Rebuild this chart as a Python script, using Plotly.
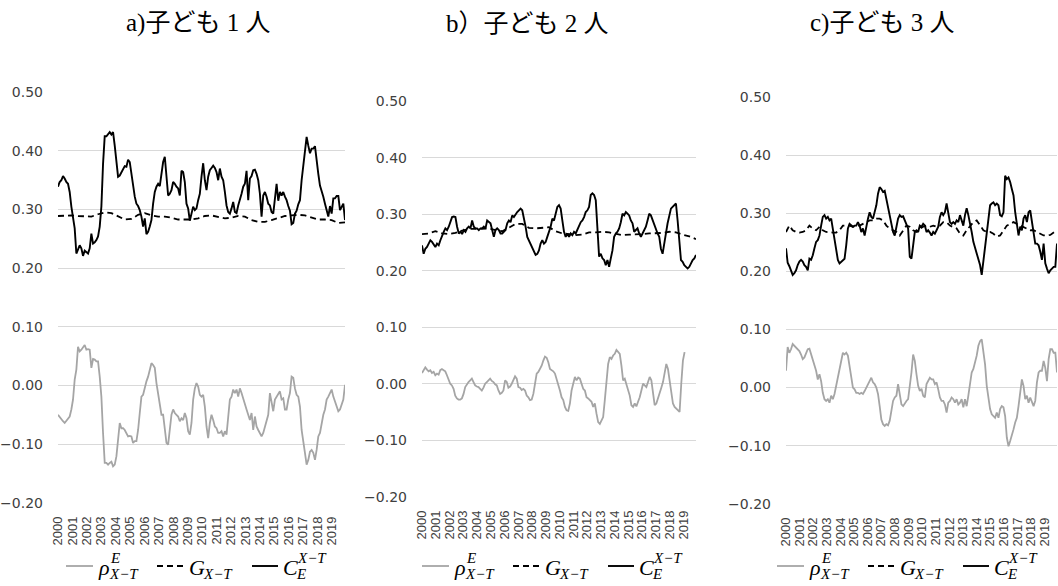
import pandas as pd
import plotly.graph_objects as go

# ---------------- data ----------------
years = [str(y) for y in range(2000, 2020)]
titles = ["a)子ども 1 人", "b）子ども 2 人", "c)子ども 3 人"]
series_names = ["rho_E_X-T", "G_X-T", "C_E^X-T"]

# Panel a (1 child)
rho_a = [-0.050,-0.054,-0.059,-0.061,-0.064,-0.060,-0.056,-0.053,-0.041,-0.024,
         0.010,0.027,0.066,0.058,0.061,0.066,0.069,0.061,0.062,0.061,
         0.030,0.045,0.044,0.041,0.041,0.015,-0.019,-0.081,-0.132,-0.132,
         -0.135,-0.132,-0.130,-0.138,-0.135,-0.121,-0.090,-0.064,-0.073,-0.073,
         -0.076,-0.081,-0.087,-0.086,-0.087,-0.098,-0.095,-0.095,-0.076,-0.047,
         -0.019,-0.016,-0.002,0.007,0.015,0.027,0.038,0.035,0.030,0.004,
         -0.013,-0.030,-0.050,-0.050,-0.078,-0.098,-0.101,-0.076,-0.050,-0.041,
         -0.047,-0.050,-0.053,-0.061,-0.056,-0.059,-0.047,-0.056,-0.078,-0.084,
         -0.064,-0.024,-0.005,0.004,-0.002,-0.016,-0.019,-0.016,-0.036,-0.070,
         -0.090,-0.064,-0.050,-0.059,-0.070,-0.073,-0.081,-0.081,-0.078,-0.087,
         -0.078,-0.084,-0.059,-0.024,-0.019,-0.007,-0.013,-0.007,-0.019,-0.005,
         -0.013,-0.024,-0.030,-0.041,-0.050,-0.059,-0.047,-0.076,-0.053,-0.070,
         -0.076,-0.081,-0.087,-0.081,-0.070,-0.061,-0.050,-0.013,-0.030,-0.044,
         -0.024,-0.019,-0.013,-0.010,-0.024,-0.022,-0.041,-0.041,-0.024,-0.013,
         0.015,0.013,-0.005,-0.016,-0.019,-0.036,-0.076,-0.093,-0.115,-0.135,
         -0.127,-0.113,-0.110,-0.115,-0.127,-0.110,-0.087,-0.081,-0.064,-0.050,
         -0.041,-0.024,-0.019,-0.013,-0.007,-0.019,-0.027,-0.036,-0.044,-0.041,
         -0.033,-0.024,0.001]
g_a = [0.289,0.290,0.290,0.289,0.289,0.288,0.292,0.295,0.294,0.288,
       0.283,0.284,0.291,0.294,0.290,0.288,0.288,0.286,0.283,0.283,
       0.283,0.285,0.289,0.290,0.288,0.285,0.286,0.289,0.288,0.282,
       0.279,0.279,0.282,0.286,0.289,0.290,0.291,0.290,0.287,0.283,
       0.283,0.282,0.277,0.278]
c_a = [0.339,0.347,0.350,0.357,0.353,0.347,0.344,0.330,0.305,0.282,
       0.268,0.225,0.231,0.239,0.234,0.221,0.230,0.228,0.225,0.234,
       0.259,0.242,0.244,0.248,0.254,0.271,0.305,0.378,0.425,0.425,
       0.429,0.432,0.428,0.432,0.409,0.381,0.356,0.358,0.364,0.371,
       0.374,0.373,0.385,0.381,0.358,0.339,0.322,0.310,0.306,0.299,
       0.288,0.271,0.285,0.258,0.262,0.271,0.282,0.310,0.330,0.339,
       0.344,0.340,0.358,0.381,0.390,0.361,0.324,0.327,0.333,0.347,
       0.344,0.339,0.336,0.324,0.366,0.364,0.347,0.310,0.302,0.281,
       0.293,0.305,0.299,0.302,0.316,0.327,0.356,0.379,0.350,0.333,
       0.356,0.367,0.371,0.375,0.371,0.364,0.350,0.370,0.356,0.350,
       0.330,0.307,0.296,0.293,0.302,0.313,0.296,0.294,0.307,0.316,
       0.327,0.339,0.344,0.366,0.316,0.353,0.357,0.367,0.368,0.361,
       0.350,0.327,0.288,0.324,0.330,0.322,0.310,0.307,0.296,0.293,
       0.324,0.344,0.315,0.330,0.324,0.330,0.322,0.316,0.306,0.298,
       0.275,0.277,0.293,0.298,0.309,0.316,0.350,0.375,0.404,0.424,
       0.409,0.396,0.404,0.404,0.408,0.381,0.361,0.341,0.333,0.322,
       0.310,0.299,0.288,0.306,0.293,0.319,0.319,0.323,0.323,0.299,
       0.305,0.310,0.282]

# Panel b (2 children)
rho_b = [0.019,0.024,0.029,0.025,0.022,0.024,0.019,0.021,0.015,0.018,
         0.016,0.024,0.026,0.024,0.022,0.015,0.006,0.000,-0.003,-0.009,
         -0.021,-0.026,-0.028,-0.028,-0.026,-0.018,-0.006,0.000,0.003,0.006,
         0.009,0.003,-0.003,-0.005,-0.006,-0.009,-0.012,-0.007,0.000,0.003,
         0.006,0.009,0.005,0.003,-0.001,-0.003,-0.012,-0.018,-0.016,-0.012,
         0.006,0.003,-0.007,-0.005,0.000,0.007,0.013,0.009,-0.006,-0.007,
         -0.011,-0.009,-0.012,-0.021,-0.024,-0.029,-0.028,-0.018,0.000,0.018,
         0.021,0.026,0.032,0.041,0.048,0.046,0.038,0.026,0.024,0.022,
         0.018,0.009,0.000,-0.012,-0.024,-0.029,-0.041,-0.047,-0.048,-0.035,
         -0.012,0.000,0.012,0.006,0.011,0.009,0.000,-0.009,-0.012,-0.024,
         -0.026,-0.029,-0.032,-0.041,-0.035,-0.053,-0.068,-0.071,-0.064,-0.059,
         -0.029,0.006,0.035,0.047,0.044,0.050,0.053,0.060,0.056,0.053,
         0.032,0.006,0.009,0.000,-0.009,-0.021,-0.038,-0.041,-0.035,-0.040,
         -0.032,-0.024,-0.012,0.000,-0.003,-0.006,0.003,0.012,0.006,-0.012,
         -0.038,-0.035,-0.024,-0.015,-0.007,0.003,0.021,0.035,0.026,0.006,
         -0.018,-0.035,-0.041,-0.044,-0.047,-0.050,0.000,0.041,0.056]
g_b = [0.265,0.266,0.270,0.266,0.265,0.267,0.271,0.274,0.274,0.274,
       0.275,0.272,0.270,0.276,0.283,0.283,0.276,0.275,0.276,0.277,
       0.270,0.266,0.265,0.263,0.264,0.268,0.268,0.269,0.268,0.265,
       0.263,0.264,0.264,0.265,0.266,0.266,0.267,0.269,0.268,0.264,
       0.261,0.256]
c_b = [0.245,0.230,0.239,0.242,0.248,0.254,0.251,0.245,0.242,0.248,
       0.245,0.254,0.263,0.269,0.275,0.272,0.278,0.289,0.295,0.296,
       0.295,0.278,0.266,0.269,0.265,0.272,0.269,0.275,0.278,0.275,
       0.289,0.278,0.275,0.275,0.272,0.275,0.275,0.278,0.275,0.289,
       0.286,0.284,0.272,0.260,0.272,0.275,0.272,0.266,0.266,0.269,
       0.272,0.284,0.289,0.286,0.298,0.295,0.301,0.304,0.307,0.310,
       0.307,0.295,0.278,0.260,0.254,0.248,0.242,0.236,0.228,0.230,
       0.236,0.248,0.254,0.248,0.251,0.260,0.269,0.278,0.292,0.289,
       0.301,0.313,0.316,0.310,0.289,0.269,0.260,0.266,0.260,0.266,
       0.263,0.269,0.266,0.272,0.278,0.286,0.289,0.295,0.304,0.307,
       0.313,0.334,0.337,0.334,0.325,0.278,0.225,0.230,0.222,0.219,
       0.210,0.219,0.207,0.222,0.236,0.260,0.266,0.269,0.275,0.286,
       0.301,0.298,0.304,0.301,0.298,0.289,0.284,0.269,0.272,0.275,
       0.266,0.260,0.266,0.272,0.278,0.289,0.301,0.298,0.289,0.284,
       0.272,0.266,0.260,0.239,0.230,0.245,0.266,0.284,0.298,0.310,
       0.313,0.316,0.319,0.289,0.254,0.219,0.216,0.210,0.207,0.204,
       0.207,0.213,0.219,0.222,0.228]

# Panel c (3 children)
rho_c = [0.029,0.070,
         0.060,0.066,0.075,0.072,0.069,0.066,0.063,0.057,0.049,0.052,
         0.060,0.066,0.067,0.057,0.049,0.040,0.029,0.014,0.023,0.011,
         -0.009,-0.020,-0.023,-0.020,-0.026,-0.014,-0.020,-0.011,0.003,0.020,
         0.037,0.046,0.060,0.057,0.060,0.055,0.037,0.014,0.000,-0.003,
         -0.009,-0.009,-0.011,-0.009,-0.011,-0.006,0.000,0.006,0.014,0.017,
         0.009,0.006,0.000,-0.011,-0.032,-0.055,-0.063,-0.066,-0.063,-0.065,
         -0.057,-0.043,-0.023,-0.017,-0.014,0.006,-0.011,-0.029,-0.032,-0.026,
         -0.023,-0.020,0.000,0.026,0.057,0.046,0.023,0.003,-0.006,-0.002,
         -0.014,-0.017,0.006,0.011,0.017,0.014,0.014,0.006,0.009,-0.003,
         -0.017,-0.023,-0.023,-0.029,-0.043,-0.026,-0.023,-0.017,-0.020,-0.026,
         -0.020,-0.029,-0.026,-0.020,-0.034,-0.020,-0.032,-0.014,0.006,0.026,
         0.032,0.043,0.055,0.072,0.080,0.083,0.060,0.040,0.003,-0.020,
         -0.037,-0.046,-0.049,-0.052,-0.043,-0.052,-0.037,-0.032,-0.034,-0.049,
         -0.086,-0.101,-0.092,-0.083,-0.072,-0.060,-0.052,-0.032,-0.011,0.014,
         0.003,-0.020,-0.014,-0.026,-0.017,-0.026,-0.032,-0.023,0.009,0.026,
         0.029,0.029,0.046,0.034,0.011,0.049,0.066,0.066,0.060,0.060,
         0.026]
g_c = [0.268,
       0.279,0.271,0.268,0.267,0.268,0.271,0.279,0.274,0.271,0.277,
       0.271,0.268,0.267,0.267,0.267,0.271,0.279,0.279,0.279,0.277,
       0.279,0.279,0.282,0.285,0.288,0.288,0.291,0.291,0.288,0.279,
       0.274,0.271,0.268,0.262,0.271,0.279,0.277,0.271,0.268,0.274,
       0.277,0.279,0.277,0.279,0.277,0.279,0.285,0.285,0.279,0.277,
       0.274,0.265,0.262,0.271,0.279,0.285,0.288,0.279,0.271,0.268,
       0.268,0.265,0.260,0.262,0.271,0.279,0.282,0.285,0.282,0.279,
       0.277,0.274,0.271,0.271,0.268,0.265,0.262,0.262,0.263,0.267,
       0.271]
c_c = [0.240,0.215,0.209,
       0.200,0.194,0.197,0.202,0.211,0.217,0.220,0.217,0.211,0.208,
       0.202,0.222,0.220,0.228,0.240,0.251,0.254,0.262,0.279,0.294,
       0.297,0.291,0.294,0.288,0.291,0.274,0.251,0.234,0.220,0.214,
       0.217,0.220,0.222,0.245,0.274,0.282,0.279,0.277,0.279,0.279,
       0.285,0.279,0.268,0.274,0.262,0.279,0.291,0.302,0.294,0.291,
       0.302,0.314,0.334,0.345,0.342,0.337,0.339,0.325,0.305,0.291,
       0.277,0.268,0.262,0.279,0.291,0.297,0.294,0.295,0.288,0.279,
       0.274,0.225,0.222,0.245,0.268,0.271,0.268,0.279,0.277,0.282,
       0.279,0.268,0.271,0.267,0.262,0.268,0.265,0.271,0.277,0.294,
       0.302,0.297,0.302,0.317,0.297,0.285,0.282,0.285,0.282,0.288,
       0.285,0.297,0.288,0.279,0.297,0.309,0.297,0.285,0.268,0.251,
       0.240,0.228,0.220,0.211,0.194,0.220,0.240,0.262,0.291,0.314,
       0.317,0.319,0.314,0.317,0.314,0.297,0.295,0.302,0.365,0.359,
       0.362,0.354,0.342,0.331,0.302,0.285,0.262,0.277,0.271,0.291,
       0.297,0.285,0.302,0.305,0.285,0.262,0.248,0.248,0.245,0.234,
       0.220,0.248,0.214,0.205,0.197,0.202,0.205,0.208,0.208,0.248]

panels = [
    dict(rho=rho_a, g=g_a, c=c_a, rho_end="2019-12-01"),
    dict(rho=rho_b, g=g_b, c=c_b, rho_end="2019-02-01"),
    dict(rho=rho_c, g=g_c, c=c_c, rho_end="2019-12-01"),
]

# ---------------- layout geometry (pixels) ----------------
W, H = 1058, 586
x_dom = [(58, 345), (422, 696), (786, 1057)]
y_dom = [(503, 92), (497, 101), (504, 97)]
title_x = [198, 527, 882]
legend_x0 = [66, 422, 777]     # left end of each panel's legend row
legend_y = 566

def px(x):
    return x / W

def py(y):
    return (H - y) / H

def dates(n, end="2019-12-01"):
    return pd.date_range("2000-01-01", end, periods=n)

gray, black = "#a5a5a5", "#000000"
styles = [dict(color=gray, width=1.8),
          dict(color=black, width=1.8, dash="6px,4px"),
          dict(color=black, width=1.9)]

fig = go.Figure()

for i, p in enumerate(panels):
    sfx = "" if i == 0 else str(i + 1)
    xa, ya = "x" + sfx, "y" + sfx
    fig.add_trace(go.Scatter(x=dates(len(p["rho"]), p["rho_end"]), y=p["rho"],
                             mode="lines", name=series_names[0], line=styles[0],
                             xaxis=xa, yaxis=ya, showlegend=False))
    fig.add_trace(go.Scatter(x=dates(len(p["g"])), y=p["g"],
                             mode="lines", name=series_names[1], line=styles[1],
                             xaxis=xa, yaxis=ya, showlegend=False))
    fig.add_trace(go.Scatter(x=dates(len(p["c"])), y=p["c"],
                             mode="lines", name=series_names[2], line=styles[2],
                             xaxis=xa, yaxis=ya, showlegend=False))

    x0, x1 = x_dom[i]
    yb, yt = y_dom[i]
    fig.layout["xaxis" + sfx] = dict(
        domain=[px(x0), px(x1)], anchor=ya, type="date",
        range=["2000-01-01", "2019-12-01"],
        tickvals=[f"{y}-01-01" for y in years], ticktext=years,
        tickangle=-90, showgrid=False, zeroline=False, showline=False,
        ticks="", ticklabelstandoff=10,
        tickfont=dict(family="Liberation Sans, Arial, sans-serif", size=13, color="#404040"),
        automargin=False)
    fig.layout["yaxis" + sfx] = dict(
        domain=[py(yb), py(yt)], anchor=xa,
        range=[-0.2005, 0.5005], tickmode="linear", tick0=-0.2, dtick=0.1,
        tickformat=".2f", showgrid=True, gridcolor="#d9d9d9", gridwidth=1,
        zeroline=False, showline=False, ticks="", ticklabelstandoff=14,
        tickfont=dict(family="DejaVu Sans, sans-serif", size=14, color="#404040"),
        automargin=False)

    # title
    fig.add_annotation(text=titles[i], xref="paper", yref="paper",
                       x=px(title_x[i]), y=py(23), showarrow=False,
                       xanchor="center", yanchor="middle",
                       font=dict(family="Liberation Serif, Noto Sans CJK JP, serif",
                                 size=25, color="black"))

    # legend row: line sample + symbol with stacked super/subscripts
    L = legend_x0[i]
    samples = [(0, 27), (91, 117), (186, 212)]
    for (a, b), st in zip(samples, styles):
        fig.add_shape(type="line", xref="paper", yref="paper",
                      x0=px(L + a), x1=px(L + b), y0=py(legend_y), y1=py(legend_y),
                      line=st)
    main_font = dict(family="Liberation Serif, DejaVu Serif, serif", size=22,
                     color="black", style="italic")
    sc_font = dict(family="Liberation Serif, DejaVu Serif, serif", size=15,
                   color="black", style="italic")
    items = [  # (symbol, left offset, script offset, sup, sub)
        ("ρ", 30, 42, "E", "X−T"),
        ("G", 121, 136, "", "X−T"),
        ("C", 215, 229, "X−T", "E"),
    ]
    for sym, off, soff, sup, sub in items:
        fig.add_annotation(text=sym, xref="paper", yref="paper", x=px(L + off),
                           y=py(legend_y + 1), xanchor="left", yanchor="middle",
                           showarrow=False, font=main_font)
        if sup:
            fig.add_annotation(text=sup, xref="paper", yref="paper", x=px(L + soff),
                               y=py(legend_y - 8), xanchor="left", yanchor="middle",
                               showarrow=False, font=sc_font)
        if sub:
            fig.add_annotation(text=sub, xref="paper", yref="paper", x=px(L + soff - 1),
                               y=py(legend_y + 8), xanchor="left", yanchor="middle",
                               showarrow=False, font=sc_font)

fig.update_layout(width=W, height=H, margin=dict(l=0, r=0, t=0, b=0),
                  paper_bgcolor="white", plot_bgcolor="white", showlegend=False)

fig.write_html("out.html")
